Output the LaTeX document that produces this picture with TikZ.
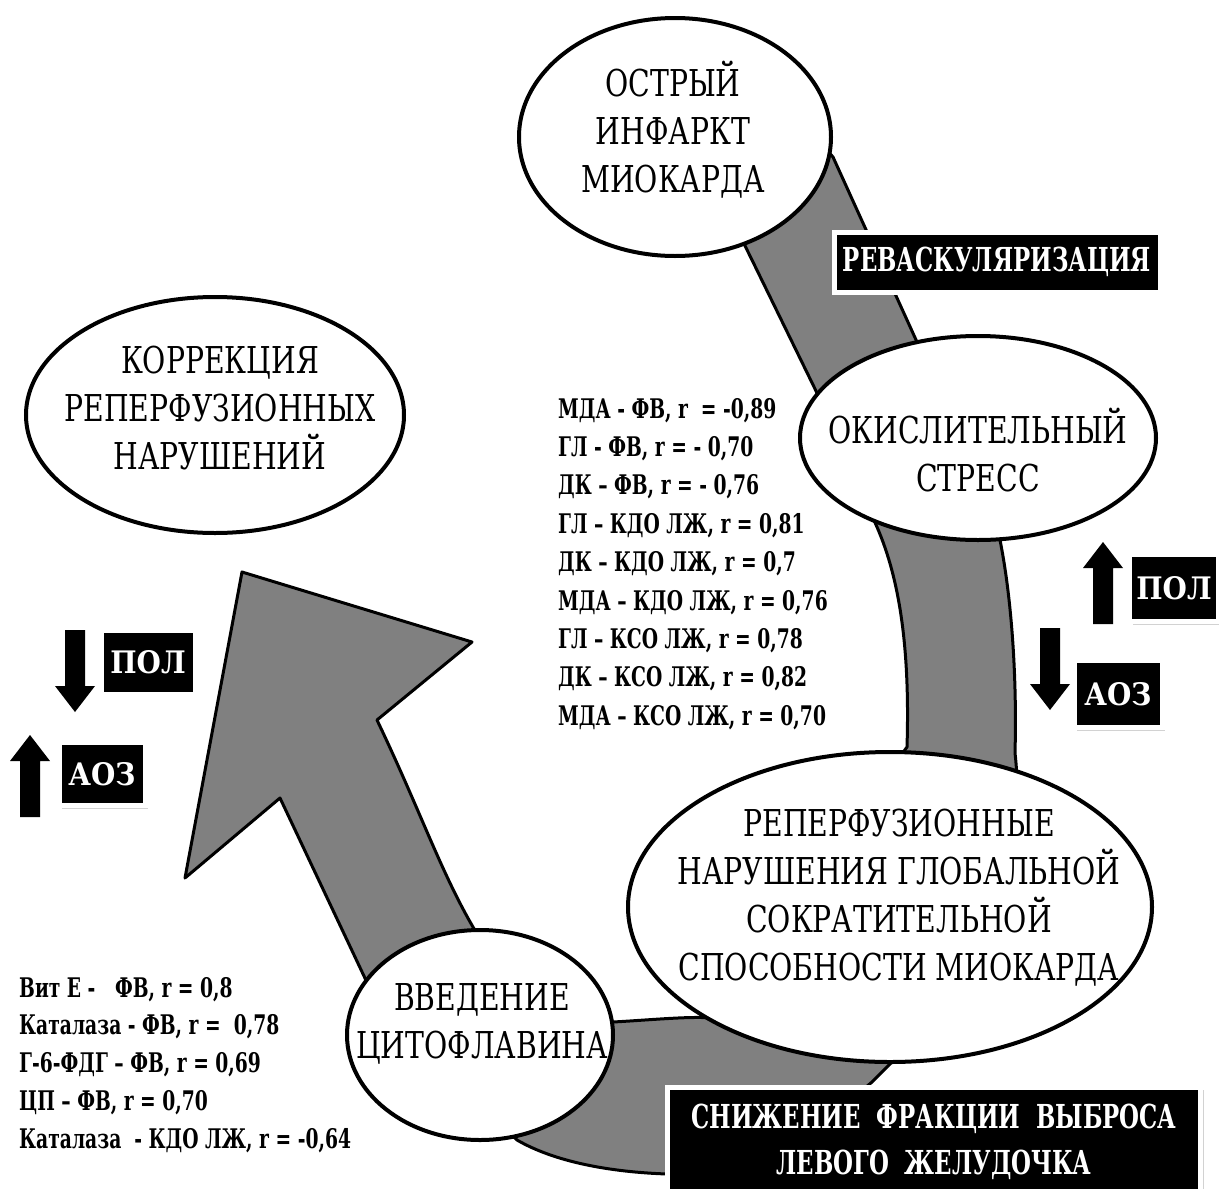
\documentclass[tikz,border=0pt]{standalone}
\usepackage{fontspec}
\setmainfont{DejaVu Serif}
\newfontfamily\narrowserif{DejaVu Serif Condensed}[FakeStretch=0.85]
\newfontfamily\tightserif{DejaVu Serif Condensed}[FakeStretch=0.77]
\newfontfamily\condserif{DejaVu Serif Condensed}
\usetikzlibrary{shapes.geometric, shadows}
\definecolor{bandgray}{RGB}{128, 128, 128}
\tikzset{
    bubble/.style={ellipse, draw=black, fill=white, line width=4pt, inner sep=0pt},
    bubbletext/.style={align=center, inner sep=0pt,
        font=\narrowserif\fontsize{37}{48}\selectfont},
    blackbox/.style={fill=black, draw=white, line width=5pt, text=white,
        inner sep=0pt, align=center,
        font=\tightserif\bfseries\fontsize{33}{46}\selectfont,
        drop shadow={shadow xshift=3pt, shadow yshift=-3pt, opacity=.35}},
    smallbox/.style={blackbox, font=\condserif\bfseries\fontsize{31}{36}\selectfont},
    corrtext/.style={anchor=base west, inner sep=0pt,
        font=\tightserif\bfseries\fontsize{27}{36}\selectfont},
    fatarrow/.pic={
        \fill (0, 0) -- (20, 26) -- (10, 26) -- (10, 82) -- (-10, 82)
            -- (-10, 26) -- (-20, 26) -- cycle;
    },
}

\begin{document}
\begin{tikzpicture}[x=1pt, y=-1pt]
        \useasboundingbox (0, 0) rectangle (1219, 1189);
        \fill[white] (0, 0) rectangle (1219, 1189);
        % the grey band
        \draw[fill=bandgray, line width=3pt, line join=round]
            (242, 572) -- (472, 642) -- (377, 720)
            .. controls (420, 810) and (440, 870) .. (473, 927)
            .. controls (500, 975) and (560, 1012) .. (613, 1022)
            .. controls (650, 1020) and (690, 1016) .. (713, 1018)
            -- (907, 747)
            .. controls (910, 650) and (900, 580) .. (877, 527)
            -- (817, 393) -- (752, 260) -- (720, 195) -- (800, 120)
            -- (833, 157) -- (917, 342)
            .. controls (940, 390) and (990, 480) .. (1000, 540)
            .. controls (1012, 600) and (1017, 680) .. (1015, 753)
            .. controls (1030, 880) and (960, 1000) .. (896, 1058)
            -- (872, 1082) -- (780, 1160) -- (667, 1174)
            .. controls (610, 1172) and (555, 1162) .. (517, 1140)
            -- (380, 1010) -- (280, 798) -- (185, 878) -- cycle;
        % ellipses
        \node[bubble, minimum width=312, minimum height=238] (oim) at (675, 137) {};
        \node[bubble, minimum width=356, minimum height=204] (stress) at (978, 438) {};
        \node[bubble, minimum width=378, minimum height=236] (korr) at (215, 415) {};
        \node[bubble, minimum width=524, minimum height=310] (reperf) at (890, 907) {};
        \node[bubble, minimum width=266, minimum height=210] (vved) at (480, 1035) {};
        \node[bubbletext] (oim-t) at (673, 130) {ОСТРЫЙ\\ИНФАРКТ\\МИОКАРДА};
        \node[bubbletext] (stress-t) at (978, 450) {ОКИСЛИТЕЛЬНЫЙ\\СТРЕСС};
        \node[bubbletext] (korr-t) at (220, 408) {КОРРЕКЦИЯ\\РЕПЕРФУЗИОННЫХ\\НАРУШЕНИЙ};
        \node[bubbletext] (reperf-t) at (899, 898) {РЕПЕРФУЗИОННЫЕ\\НАРУШЕНИЯ ГЛОБАЛЬНОЙ\\СОКРАТИТЕЛЬНОЙ\\СПОСОБНОСТИ МИОКАРДА};
        \node[bubbletext] (vved-t) at (482, 1024) {ВВЕДЕНИЕ\\ЦИТОФЛАВИНА};
        % black labels
        \node[blackbox, minimum width=326, minimum height=60] (revasc) at (997, 262) {РЕВАСКУЛЯРИЗАЦИЯ};
        \node[blackbox, minimum width=533, minimum height=110] (lvef) at (934, 1142)
            {СНИЖЕНИЕ\ \ ФРАКЦИИ\ \ ВЫБРОСА\\ЛЕВОГО\ \ ЖЕЛУДОЧКА};
        \node[smallbox, minimum width=89, minimum height=67] (pol-r) at (1174, 588) {ПОЛ};
        \node[smallbox, minimum width=88, minimum height=67] (aoz-r) at (1118, 694) {АОЗ};
        \node[smallbox, minimum width=94, minimum height=64] (pol-l) at (148, 662) {ПОЛ};
        \node[smallbox, minimum width=86, minimum height=63] (aoz-l) at (102, 774) {АОЗ};
        % up and down arrows
        \pic at (1103, 542) {fatarrow};
        \pic[rotate=180] at (1050, 710) {fatarrow};
        \pic[rotate=180] at (75, 712) {fatarrow};
        \pic at (30, 735) {fatarrow};
        % correlations
        \foreach \txt [count=\i] in {{МДА - ФВ, r\ \ = -0,89}, {ГЛ - ФВ, r = - 0,70},
            {ДК – ФВ, r = - 0,76}, {ГЛ – КДО ЛЖ, r = 0,81}, {ДК – КДО ЛЖ, r = 0,7},
            {МДА – КДО ЛЖ, r = 0,76}, {ГЛ – КСО ЛЖ, r = 0,78},
            {ДК – КСО ЛЖ, r = 0,82}, {МДА – КСО ЛЖ, r = 0,70}}{
            \node[corrtext] (ox\i) at (558, 418 + 38.4*\i - 38.4) {\txt};
        }
        \foreach \txt [count=\i] in {{Вит Е -\ \ \ ФВ, r = 0,8}, {Каталаза - ФВ, r =\ \ 0,78},
            {Г-6-ФДГ – ФВ, r = 0,69}, {ЦП – ФВ, r = 0,70},
            {Каталаза\ \ - КДО ЛЖ, r = -0,64}}{
            \node[corrtext] (cf\i) at (19, 997 + 37.8*\i - 37.8) {\txt};
        }
    \end{tikzpicture}
\end{document}
